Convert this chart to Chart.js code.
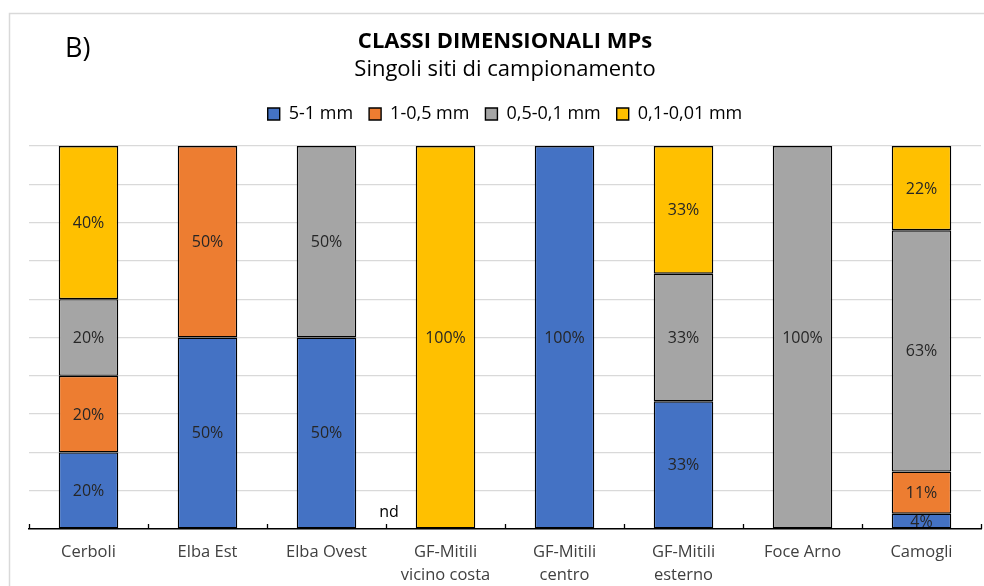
<!DOCTYPE html>
<html>
<head>
<meta charset="utf-8">
<script src="https://cdn.jsdelivr.net/npm/chart.js@4.4.1/dist/chart.umd.min.js"></script>
<style>
  html, body { margin: 0; padding: 0; background: #fff; }
  #wrap { width: 984px; height: 586px; position: relative; }
</style>
</head>
<body>
<div id="wrap"><canvas id="c" width="984" height="586"></canvas></div>
<script>
// Sampling sites (x-axis categories, one array of lines per label)
const siteLabels = [
  ['Cerboli'],
  ['Elba Est'],
  ['Elba Ovest'],
  ['GF-Mitili', 'vicino costa'],
  ['GF-Mitili', 'centro'],
  ['GF-Mitili', 'esterno'],
  ['Foce Arno'],
  ['Camogli']
];

// Size classes (legend entries)
const sizeClasses = ['5-1 mm', '1-0,5 mm', '0,5-0,1 mm', '0,1-0,01 mm'];

// Percentage of MPs per size class at each site (null = class absent)
const class5to1 = [20, 50, 50, null, 100, 33, null, 4];
const class1to05 = [20, 50, null, null, null, null, null, 11];
const class05to01 = [20, null, 50, null, null, 33, 100, 63];
const class01to001 = [40, null, null, 100, null, 33, null, 22];

// Site with no data (between Elba Ovest and GF-Mitili vicino costa)
const noDataSiteIndex = 2.5;
const noDataText = 'nd';

const classColors = ['#4472C4', '#ED7D31', '#A5A5A5', '#FFC000'];
const rawSeries = [class5to1, class1to05, class05to01, class01to001];

// 100% stacked: each segment is its share of the site's total
const totals = siteLabels.map((_, i) =>
  rawSeries.reduce((s, arr) => s + (arr[i] || 0), 0));
const shareOf = arr => arr.map((v, i) =>
  v == null || !totals[i] ? null : v / totals[i] * 100);

const datasets = rawSeries.map((arr, k) => ({
  label: sizeClasses[k],
  data: shareOf(arr),
  raw: arr,
  backgroundColor: classColors[k],
  borderColor: '#000000',
  borderWidth: 1.4,
  borderSkipped: false,
  categoryPercentage: 1.0,
  barPercentage: 0.5
}));

const FONT = '"Open Sans", "DejaVu Sans", sans-serif';

// Extra room between legend and plot area
const legendGap = {
  id: 'legendGap',
  beforeInit(chart) {
    const lg = chart.legend;
    if (!lg) return;
    const fit = lg.fit;
    lg.fit = function () {
      fit.call(lg);
      lg.height += 13;
    };
  }
};

// Frame, panel letter, inner ticks, segment labels and "nd" marker
const decorations = {
  id: 'decorations',
  beforeDraw(chart) {
    const ctx = chart.ctx;
    ctx.save();
    ctx.fillStyle = '#ffffff';
    ctx.fillRect(0, 0, chart.width, chart.height);
    ctx.strokeStyle = '#d9d9d9';
    ctx.lineWidth = 1.5;
    ctx.beginPath();
    ctx.moveTo(9.5, chart.height);
    ctx.lineTo(9.5, 13.5);
    ctx.lineTo(chart.width, 13.5);
    ctx.stroke();
    ctx.fillStyle = '#000000';
    ctx.font = '27px ' + FONT;
    ctx.textAlign = 'left';
    ctx.textBaseline = 'middle';
    ctx.fillText('B)', 65, 49);
    ctx.restore();
  },
  afterDatasetsDraw(chart) {
    const ctx = chart.ctx;
    const xs = chart.scales.x, ys = chart.scales.y;
    ctx.save();
    // tick marks at category boundaries, pointing up into the plot
    const n = chart.data.labels.length;
    const step = (xs.right - xs.left) / n;
    ctx.strokeStyle = '#000000';
    ctx.lineWidth = 1.3;
    ctx.beginPath();
    for (let i = 0; i <= n; i++) {
      const x = Math.round(xs.left + i * step) + 0.5;
      ctx.moveTo(x, ys.bottom);
      ctx.lineTo(x, ys.bottom - 5);
    }
    ctx.stroke();

    ctx.font = '16px ' + FONT;
    ctx.fillStyle = '#262626';
    ctx.textAlign = 'center';
    ctx.textBaseline = 'middle';
    chart.data.datasets.forEach((ds, k) => {
      const meta = chart.getDatasetMeta(k);
      meta.data.forEach((bar, i) => {
        const v = ds.raw[i];
        if (v == null) return;
        const yMid = (bar.y + bar.base) / 2;
        ctx.fillText(v + '%', bar.x, yMid + 1);
      });
    });
    const xa = xs.getPixelForValue(Math.floor(noDataSiteIndex));
    const xb = xs.getPixelForValue(Math.ceil(noDataSiteIndex));
    ctx.font = '16px ' + FONT;
    ctx.fillStyle = '#000000';
    ctx.fillText(noDataText, (xa + xb) / 2 + 3, ys.getPixelForValue(4.3));
    ctx.restore();
  }
};

new Chart(document.getElementById('c'), {
  type: 'bar',
  data: { labels: siteLabels, datasets },
  plugins: [legendGap, decorations],
  options: {
    responsive: false,
    animation: false,
    layout: { padding: { left: 29, right: 3, top: 0, bottom: 0 } },
    plugins: {
      title: {
        display: true,
        text: 'CLASSI DIMENSIONALI MPs',
        color: '#000000',
        font: { family: FONT, size: 22, weight: 'bold', lineHeight: 1.0 },
        padding: { top: 31, bottom: 6 }
      },
      subtitle: {
        display: true,
        text: 'Singoli siti di campionamento',
        color: '#000000',
        font: { family: FONT, size: 22, weight: 'normal', lineHeight: 1.0 },
        padding: { top: 0, bottom: 8 }
      },
      legend: {
        display: true,
        position: 'top',
        labels: {
          color: '#000000',
          font: { family: FONT, size: 18 },
          boxWidth: 12,
          boxHeight: 12,
          padding: 16
        }
      },
      tooltip: { enabled: false }
    },
    scales: {
      x: {
        stacked: true,
        offset: true,
        grid: {
          display: true,
          offset: true,
          drawOnChartArea: false,
          drawTicks: true,
          tickLength: 6,
          tickColor: 'rgba(0,0,0,0)'
        },
        border: { display: true, color: '#000000', width: 1.5 },
        ticks: {
          color: '#404040',
          font: { family: FONT, size: 16.5, lineHeight: 1.4 },
          padding: 6,
          maxRotation: 0,
          autoSkip: false
        },
        afterFit(s) { s.height = 57; }
      },
      y: {
        stacked: true,
        min: 0,
        max: 100,
        ticks: { display: false, stepSize: 10 },
        grid: { color: '#d9d9d9', lineWidth: 1.3, drawTicks: false },
        border: { display: false },
        afterFit(s) { s.width = 0; }
      }
    }
  }
});
</script>
</body>
</html>
